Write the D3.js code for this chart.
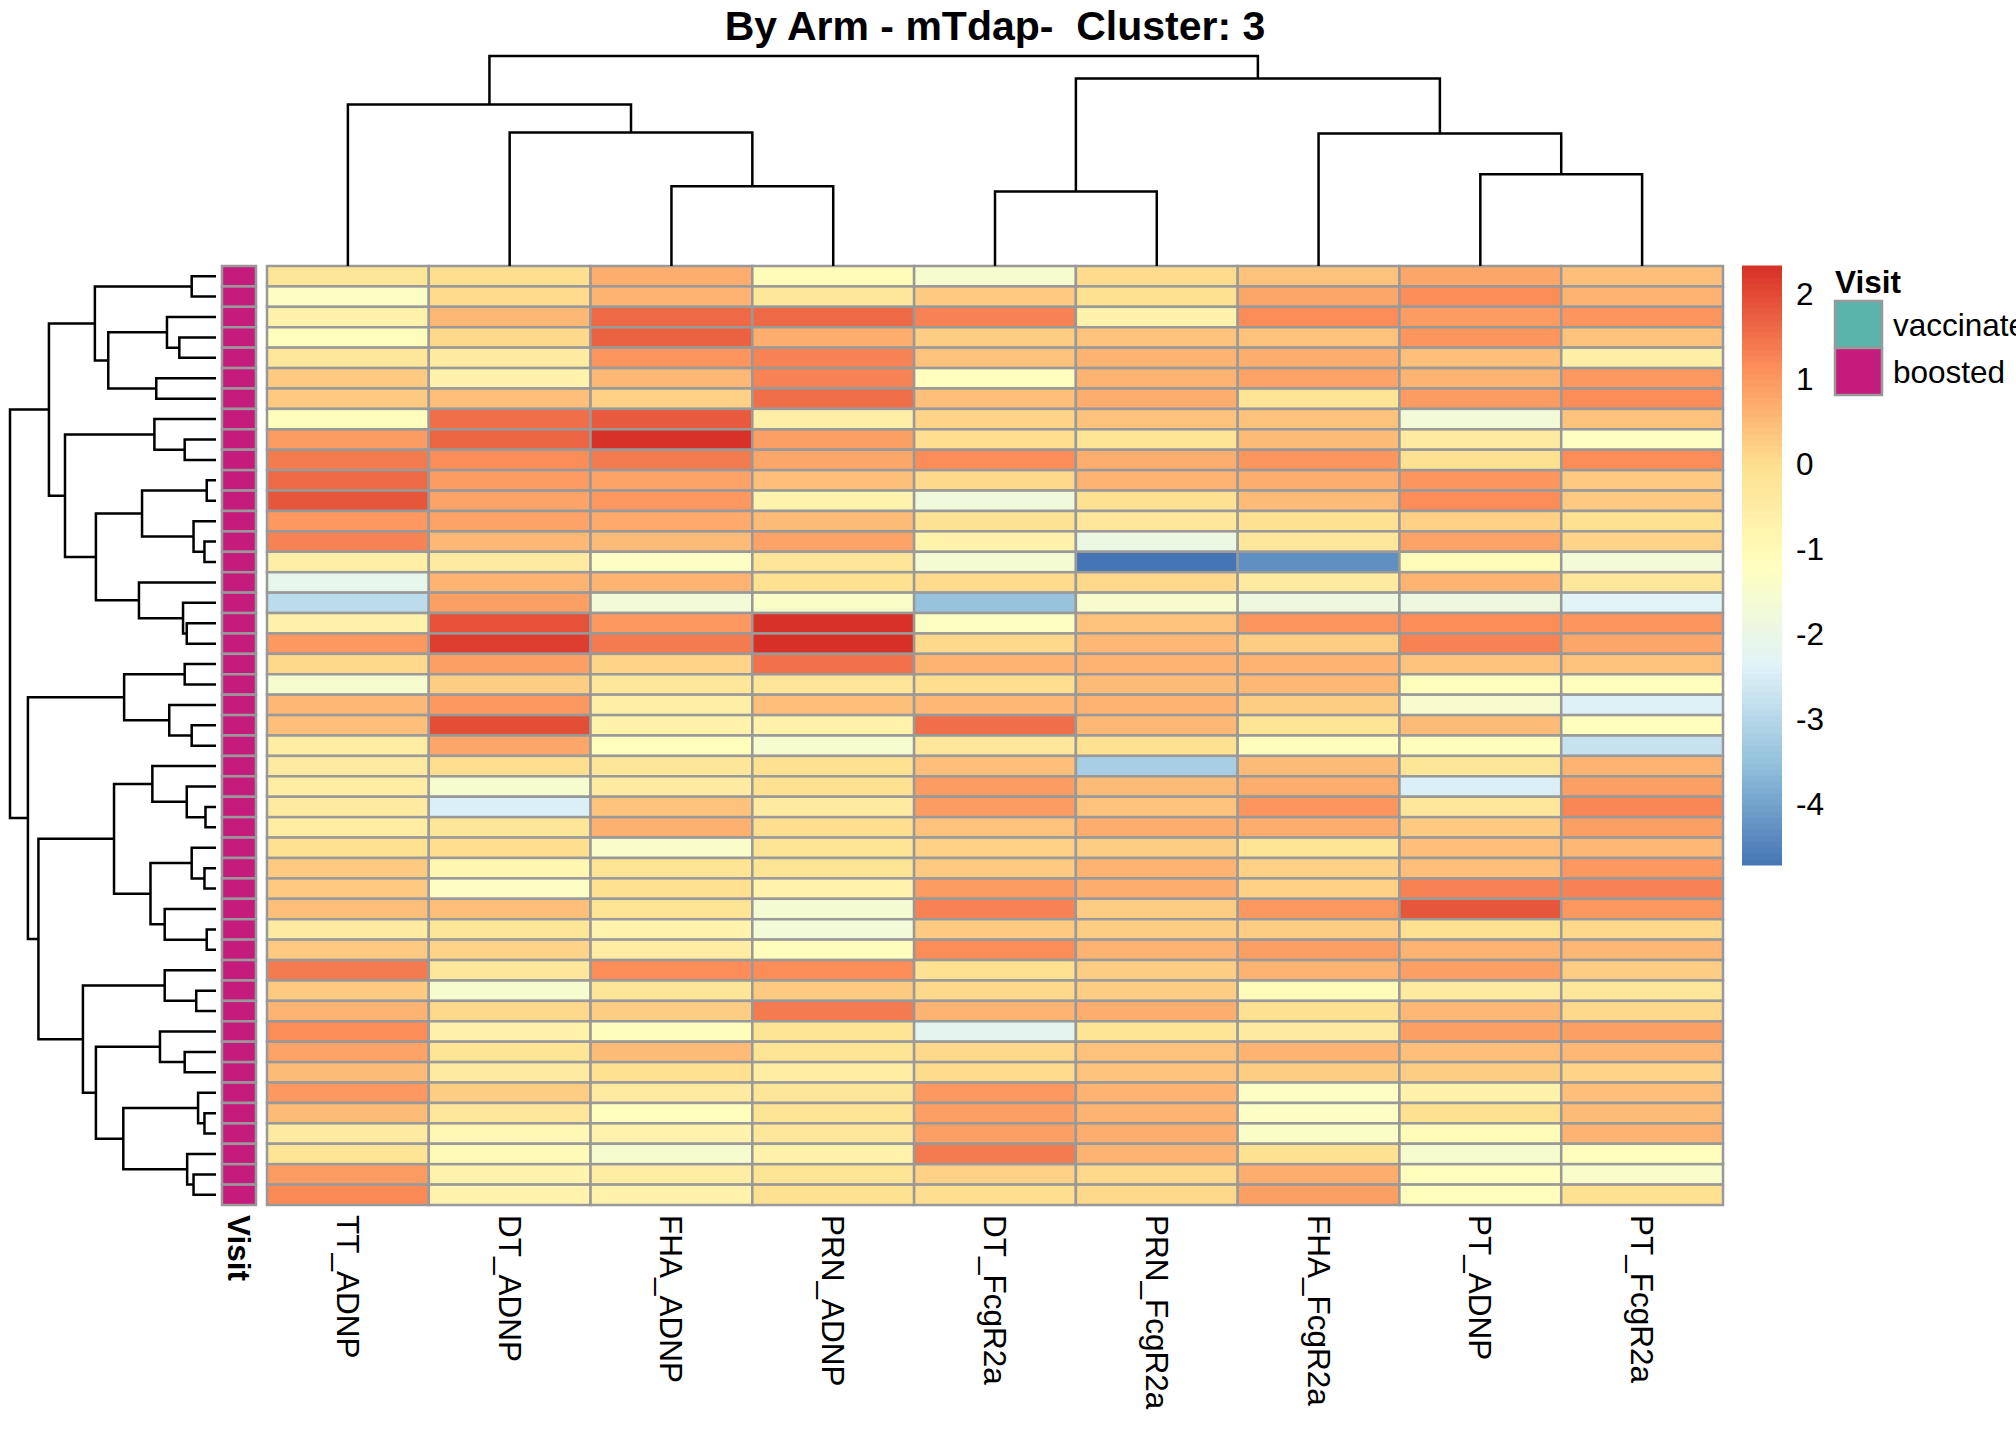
<!DOCTYPE html>
<html>
<head>
<meta charset="utf-8">
<script src="https://cdn.jsdelivr.net/npm/d3@7"></script>
<style>
  body { margin: 0; background: #fff; }
  text { font-family: "Liberation Sans", Arial, sans-serif; }
</style>
</head>
<body>
<div id="chart"></div>
<script>
// Column names, in dendrogram order
const colLabels = ["TT_ADNP", "DT_ADNP", "FHA_ADNP", "PRN_ADNP", "DT_FcgR2a",
                   "PRN_FcgR2a", "FHA_FcgR2a", "PT_ADNP", "PT_FcgR2a"];

// Scaled values per column, rows listed top to bottom
const ttADNP = [-0.25, -1.3, -0.7, -1.15, -0.3, 0.3, 0.3, -1.1, 0.95, 1.4, 1.6, 1.85, 1.0, 1.3, -0.6, -2.1, -2.9, -0.7, 1.0, 0.1, -1.5, 0.55, 0.45,
                -0.5, -0.45, -0.5, -0.45, -0.5, -0.05, 0.3, 0.3, 0.45, -0.45, 0.3, 1.4, 0.3, 0.6, 1.15, 0.85, 0.5, 1.0, 0.5, -0.45, -0.15, 0.95, 1.2];
const dtADNP = [0.0, 0.05, 0.55, 0.1, -0.45, -0.7, 0.45, 1.55, 1.65, 1.15, 0.95, 0.85, 0.85, 0.55, -0.45, 0.6, 0.9, 1.9, 2.15, 0.9, 0.25, 1.0, 1.95,
                0.8, 0.0, -1.5, -2.45, -0.25, 0.0, -0.85, -1.3, 0.45, -0.25, 0.15, -0.3, -1.5, 0.1, -0.7, -0.15, -0.45, 0.25, -0.3, -0.9, -1.0, -0.75, -0.75];
const fhaADNP = [0.7, 0.6, 1.6, 1.7, 1.05, 0.55, 0.2, 1.8, 2.3, 1.4, 0.85, 1.0, 0.75, 0.5, -1.3, 0.6, -1.7, 1.0, 1.4, 0.15, -0.3, -0.6, -0.7,
                 -1.15, -0.25, -0.45, 0.4, 0.65, -1.4, -0.15, -0.05, -0.15, -0.75, -0.5, 1.15, -0.25, 0.25, -1.1, 0.5, -0.05, -0.45, -1.15, -0.75, -1.5, -0.5, -0.7];
const prnADNP = [-1.05, -0.3, 1.6, 0.7, 1.3, 1.3, 1.55, -0.6, 0.9, 0.8, 0.45, -0.75, 0.5, 0.85, -0.2, -0.05, -1.35, 2.3, 2.33, 1.5, -0.2, 0.45, -0.7,
                 -1.5, -0.05, -0.05, -0.45, 0.0, -0.15, -0.15, -0.75, -1.6, -1.7, -1.1, 1.15, 0.3, 1.4, -0.15, -0.15, -0.5, -0.25, -0.15, -0.3, -0.7, -0.15, -0.05];
const dtFcgR2a = [-1.5, 0.3, 1.3, 0.25, 0.4, -1.15, 0.45, 0.15, 0.0, 1.15, 0.1, -1.75, -0.1, -0.7, -1.6, 0.05, -3.45, -1.25, 0.1, 0.6, 0.0, 0.55, 1.55,
                  -0.3, 0.45, 0.95, 0.95, 0.4, 0.2, 0.3, 0.95, 1.3, 0.3, 1.15, -0.05, 0.1, 0.6, -2.2, 0.1, 0.05, 1.0, 0.9, 0.9, 1.4, 0.2, 0.0];
const prnFcgR2a = [0.05, -0.05, -0.7, 0.4, 0.6, 0.6, 0.7, 0.4, -0.15, 0.7, 0.6, -0.05, -0.3, -1.9, -4.71, 0.1, -1.45, 0.4, 0.55, 0.6, 0.5, 0.6, 0.55,
                   -0.05, -3.2, 0.5, 0.4, 0.7, 0.25, 0.6, 0.7, 0.25, 0.25, 0.6, 0.25, 0.25, 0.7, -0.15, 0.4, 0.4, 0.6, 0.6, 0.7, 0.6, 0.1, 0.1];
const fhaFcgR2a = [0.4, 0.8, 1.15, 0.4, 0.7, 0.85, -0.15, 0.4, 0.5, 1.05, 0.7, 0.5, -0.05, -0.3, -4.3, -0.45, -1.85, 1.05, 0.25, 0.6, 0.55, 0.25, -0.15,
                   -1.1, 0.5, 0.7, 1.05, 0.7, -0.15, 0.2, 0.2, 1.0, 0.25, 0.9, 0.6, -1.05, -0.05, -0.45, 0.6, 0.25, -1.3, -1.3, -1.35, -0.05, 0.7, 0.9];
const ptADNP = [0.8, 1.15, 0.95, 1.05, 0.45, 0.6, 0.95, -1.7, -0.45, -0.05, 1.05, 1.15, 0.2, 0.85, -1.05, 0.6, -1.85, 1.15, 1.3, 0.4, -1.15, -1.45, 0.5,
                -1.1, -0.25, -2.45, -0.3, 0.3, 0.45, 0.45, 1.3, 1.85, -0.05, 0.6, 0.9, -0.45, 0.55, 0.9, 0.45, 0.25, -0.7, -0.05, -1.05, -1.5, -1.15, -1.15];
const ptFcgR2a = [0.45, 0.6, 1.05, 0.4, -0.6, 1.0, 1.15, 0.4, -1.25, 1.15, 0.3, 0.3, -0.05, 0.15, -1.7, -0.3, -2.3, 1.05, 0.8, 0.4, -1.15, -2.4, -1.15,
                  -2.75, 0.6, 0.9, 1.25, 0.9, 0.55, 1.0, 1.3, 1.0, 0.1, 0.55, 0.25, -0.3, 0.1, 0.9, 0.55, 0.15, 0.45, 0.5, 0.6, -1.15, -1.4, -0.05];

const columns = [ttADNP, dtADNP, fhaADNP, prnADNP, dtFcgR2a, prnFcgR2a, fhaFcgR2a, ptADNP, ptFcgR2a];

// Visit annotation per row (all boosted here)
const visitLevels = ["vaccinated", "boosted"];
const visitColors = ["#5AB4AC", "#C51B7D"];
const rowVisit = d3.range(46).map(() => "boosted");

// Dendrograms as hclust-style merges: negative = leaf (1-based), positive = earlier merge
const rowMerges = [
  [-1, -2, 1.18], [-4, -5, 1.78], [-3, 2, 2.38], [-6, -7, 2.90], [3, 4, 5.23], [1, 5, 5.88],
  [-9, -10, 1.52], [-8, 7, 2.99], [-11, -12, 0.45], [-14, -15, 0.56], [-13, 10, 1.09], [9, 11, 3.59],
  [-18, -19, 1.42], [-17, 13, 1.60], [-16, 14, 3.74], [12, 15, 5.83], [8, 16, 7.33], [6, 17, 8.11],
  [-20, -21, 1.52], [-23, -24, 1.18], [-22, 20, 2.27], [19, 21, 4.46],
  [-27, -28, 0.51], [-26, 23, 1.42], [-25, 24, 3.09], [-30, -31, 0.56], [-29, 26, 1.18],
  [-33, -34, 0.45], [-32, 28, 2.49], [27, 29, 3.18], [25, 30, 4.95],
  [-36, -37, 0.96], [-35, 32, 2.49], [-39, -40, 1.52], [-38, 34, 2.72], [-42, -43, 0.56], [-41, 36, 0.87],
  [-45, -46, 1.09], [-44, 38, 1.40], [37, 39, 4.50], [35, 40, 5.83], [33, 41, 6.46], [31, 42, 8.62],
  [22, 43, 9.13], [18, 44, 10.0]
];
const colMerges = [
  [-3, -4, 3.80], [-2, 1, 6.36], [-1, 2, 7.69], [-5, -6, 3.55], [-8, -9, 4.37], [-7, 5, 6.31], [4, 6, 8.93], [3, 7, 10.0]
];

const legendTicks = [2, 1, 0, -1, -2, -3, -4];
const paletteColors = ["#4575B4", "#91BFDB", "#E0F3F8", "#FFFFBF", "#FEE090", "#FC8D59", "#D73027"];
const title = "By Arm - mTdap-  Cluster: 3";

// ---------------------------------------------------------------
const W = 2016, H = 1440;
const fontSize = 31.5;
const hm = {x0: 267, x1: 1723, y0: 266, y1: 1205};
const grid = "#999999";

const nRows = ttADNP.length;
const cells = [];
columns.forEach((col, j) => col.forEach((v, i) => cells.push({row: i, col: colLabels[j], value: v})));

const [vMin, vMax] = d3.extent(cells, d => d.value);

const color = d3.scaleLinear()
    .domain(d3.range(paletteColors.length).map(k => vMin + k * (vMax - vMin) / (paletteColors.length - 1)))
    .range(paletteColors)
    .interpolate(d3.interpolateRgb);

const svg = d3.select("#chart")
    .append("svg")
    .attr("width", W)
    .attr("height", H)
    .style("display", "block")
    .style("background", "#fff");

const xScale = d3.scaleBand()
    .domain(colLabels)
    .range([hm.x0, hm.x1]);

const yScale = d3.scaleBand()
    .domain(d3.range(nRows))
    .range([hm.y0, hm.y1]);

// Heatmap cells
svg.append("g")
    .selectAll("rect")
    .data(cells)
    .enter()
    .append("rect")
    .attr("x", d => xScale(d.col))
    .attr("y", d => yScale(d.row))
    .attr("width", xScale.bandwidth())
    .attr("height", yScale.bandwidth())
    .style("fill", d => color(d.value))
    .style("stroke", grid)
    .style("stroke-width", 2.5);

// Annotation column
const annX = d3.scaleBand().domain(["Visit"]).range([222, 256]);
const visitColor = d3.scaleOrdinal().domain(visitLevels).range(visitColors);

svg.append("g")
    .selectAll("rect")
    .data(rowVisit)
    .enter()
    .append("rect")
    .attr("x", annX("Visit"))
    .attr("y", (d, i) => yScale(i))
    .attr("width", annX.bandwidth())
    .attr("height", yScale.bandwidth())
    .style("fill", d => visitColor(d))
    .style("stroke", grid)
    .style("stroke-width", 2.5);

// Build tree from merges
function buildTree(merges) {
    const nodes = [];
    merges.forEach(([a, b, h]) => {
        const pick = k => k < 0 ? {leaf: -k - 1, height: 0} : nodes[k - 1];
        nodes.push({height: h, children: [pick(a), pick(b)]});
    });
    return d3.hierarchy(nodes[nodes.length - 1]);
}

function elbows(root, leafPos) {
    root.eachAfter(n => {
        n.pos = n.children ? (n.children[0].pos + n.children[1].pos) / 2 : leafPos(n.data.leaf);
    });
    return root.descendants().filter(n => n.children);
}

// Column dendrogram
const colRoot = buildTree(colMerges);
const colH = d3.scaleLinear().domain([0, colRoot.data.height]).range([hm.y0, 56]);
const colNodes = elbows(colRoot, k => xScale(colLabels[k]) + xScale.bandwidth() / 2);

svg.append("g")
    .selectAll("path")
    .data(colNodes)
    .enter()
    .append("path")
    .attr("d", n => {
        const [a, b] = n.children;
        return `M${a.pos},${colH(a.data.height)}V${colH(n.data.height)}H${b.pos}V${colH(b.data.height)}`;
    })
    .style("fill", "none")
    .style("stroke", "#000")
    .style("stroke-width", 2.5);

// Row dendrogram
const rowRoot = buildTree(rowMerges);
const rowH = d3.scaleLinear().domain([0, rowRoot.data.height]).range([216, 10]);
const rowNodes = elbows(rowRoot, k => yScale(k) + yScale.bandwidth() / 2);

svg.append("g")
    .selectAll("path")
    .data(rowNodes)
    .enter()
    .append("path")
    .attr("d", n => {
        const [a, b] = n.children;
        return `M${rowH(a.data.height)},${a.pos}H${rowH(n.data.height)}V${b.pos}H${rowH(b.data.height)}`;
    })
    .style("fill", "none")
    .style("stroke", "#000")
    .style("stroke-width", 2.5);

// Column labels (rotated)
const xAxis = svg.append("g")
    .attr("transform", `translate(0, ${hm.y1})`)
    .call(d3.axisBottom(xScale).tickSize(0));
xAxis.select(".domain").remove();
xAxis.selectAll("text")
    .attr("transform", "rotate(90)")
    .attr("x", 10)
    .attr("y", 0)
    .attr("dy", "0.35em")
    .style("text-anchor", "start")
    .style("font-size", fontSize + "px")
    .style("font-family", "'Liberation Sans', Arial, sans-serif")
    .style("fill", "#000");

// Annotation label
const annAxis = svg.append("g")
    .attr("transform", `translate(0, ${hm.y1})`)
    .call(d3.axisBottom(annX).tickSize(0));
annAxis.select(".domain").remove();
annAxis.selectAll("text")
    .attr("transform", "rotate(90)")
    .attr("x", 10)
    .attr("y", 0)
    .attr("dy", "0.35em")
    .style("text-anchor", "start")
    .style("font-size", fontSize + "px")
    .style("font-weight", "bold")
    .style("font-family", "'Liberation Sans', Arial, sans-serif")
    .style("fill", "#000");

// Title
svg.append("text")
    .attr("x", (hm.x0 + hm.x1) / 2)
    .attr("y", 40)
    .attr("text-anchor", "middle")
    .style("font-size", "41px")
    .style("font-weight", "bold")
    .style("white-space", "pre")
    .text(title);

// Colour legend
const legY = d3.scaleLinear().domain([vMin, vMax]).range([865, 266]);
const steps = d3.range(100).map(k => vMin + (k + 0.5) * (vMax - vMin) / 100);
const stepH = (legY(vMin) - legY(vMax)) / 100;

svg.append("g")
    .selectAll("rect")
    .data(steps)
    .enter()
    .append("rect")
    .attr("x", 1742)
    .attr("y", d => legY(d) - stepH / 2 - 0.5)
    .attr("width", 40)
    .attr("height", stepH + 1)
    .style("fill", d => color(d));

const legAxis = svg.append("g")
    .attr("transform", "translate(1782, 0)")
    .call(d3.axisRight(legY).tickValues(legendTicks).tickSize(0).tickPadding(14).tickFormat(d => String(d)));
legAxis.select(".domain").remove();
legAxis.selectAll("text")
    .style("font-size", fontSize + "px")
    .style("font-family", "'Liberation Sans', Arial, sans-serif")
    .style("fill", "#000");

// Visit legend
const legG = svg.append("g").attr("transform", "translate(1835, 0)");
legG.append("text")
    .attr("x", 0)
    .attr("y", 293)
    .style("font-size", fontSize + "px")
    .style("font-weight", "bold")
    .text("Visit");

const boxY = d3.scaleBand().domain(visitLevels).range([301, 395]);
legG.selectAll("rect")
    .data(visitLevels)
    .enter()
    .append("rect")
    .attr("x", 0)
    .attr("y", d => boxY(d))
    .attr("width", 47)
    .attr("height", boxY.bandwidth())
    .style("fill", d => visitColor(d))
    .style("stroke", grid)
    .style("stroke-width", 2.5);

legG.selectAll("text.lab")
    .data(visitLevels)
    .enter()
    .append("text")
    .attr("class", "lab")
    .attr("x", 58)
    .attr("y", d => boxY(d) + boxY.bandwidth() / 2)
    .attr("dy", "0.35em")
    .style("font-size", fontSize + "px")
    .text(d => d);
</script>
</body>
</html>
